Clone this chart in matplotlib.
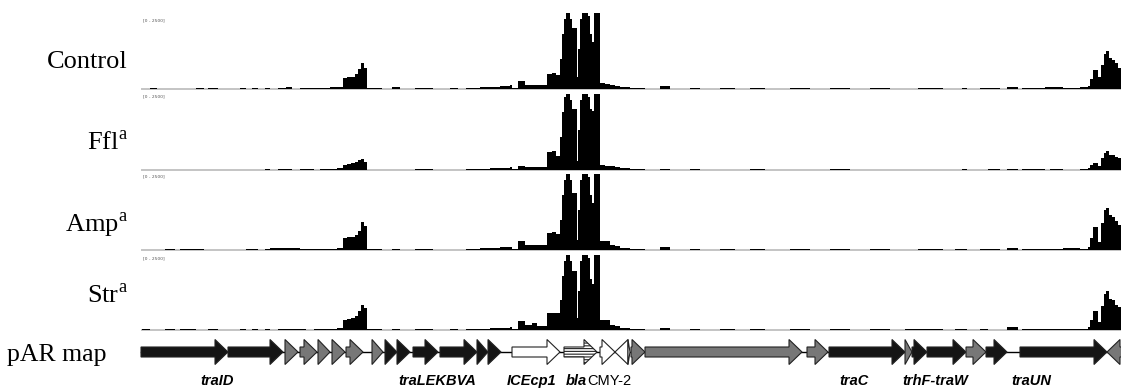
import matplotlib as mpl
mpl.use('Agg')
import matplotlib.pyplot as plt
from matplotlib.patches import Polygon

plt.rcParams['mathtext.fontset'] = 'custom'
plt.rcParams['mathtext.rm'] = 'Liberation Serif'
plt.rcParams['hatch.linewidth'] = 0.8

# coverage tracks, position in 100 bp bins, reads (scale 0 - 2500)
track_names = ['Control', 'Ffl$^{\\mathrm{a}}$', 'Amp$^{\\mathrm{a}}$', 'Str$^{\\mathrm{a}}$']
pos = [2, 10, 17, 25, 35, 40, 56, 64, 68, 78,
       100, 106, 112, 118, 125, 130, 138, 146, 152, 160,
       166, 174, 180, 190, 197, 203, 207, 211, 215, 218,
       221, 224, 227, 242, 252, 260, 275, 293, 310, 318,
       326, 340, 350, 360, 370, 372, 378, 385, 392, 397,
       407, 412, 416, 420, 422, 424, 426, 430, 432, 437,
       438, 440, 442, 448, 450, 452, 454, 460, 465, 470,
       475, 480, 490, 505, 520, 530, 550, 560, 580, 595,
       610, 625, 650, 670, 690, 710, 730, 750, 765, 778,
       803, 815, 822, 827, 840, 848, 860, 867, 878, 882,
       905, 910, 923, 940, 948, 950, 953, 958, 961, 964,
       966, 969, 972, 975, 978, 981]
cov_control = [0, 30, 0, 0, 0, 0, 30, 0, 30, 0,
               30, 0, 30, 0, 30, 0, 30, 60, 0, 30,
               30, 30, 40, 50, 65, 360, 380, 410, 500, 660,
               860, 700, 30, 0, 60, 0, 30, 0, 30, 0,
               30, 65, 80, 100, 130, 30, 250, 130, 130, 130,
               500, 530, 470, 1000, 1800, 2300, 2800, 2300, 2000, 400,
               1300, 2300, 2800, 2400, 1800, 1550, 2800, 200, 165, 130,
               100, 65, 30, 0, 100, 0, 30, 0, 30, 0,
               30, 0, 30, 0, 30, 0, 30, 0, 0, 30,
               0, 0, 30, 0, 30, 30, 0, 65, 0, 40,
               50, 50, 40, 65, 100, 330, 620, 400, 800, 1150,
               1250, 1020, 950, 850, 700, 700]
cov_ffl = [0, 0, 0, 0, 0, 0, 0, 0, 0, 0,
           0, 0, 0, 0, 30, 0, 30, 30, 0, 30,
           30, 0, 30, 40, 50, 165, 200, 230, 260, 330,
           360, 260, 0, 0, 0, 0, 30, 0, 0, 0,
           30, 40, 60, 80, 90, 30, 130, 100, 100, 100,
           600, 630, 460, 1100, 1900, 2400, 2800, 2300, 2000, 300,
           1300, 2300, 2800, 2400, 2000, 1950, 2800, 165, 130, 130,
           100, 65, 30, 0, 30, 0, 30, 0, 0, 0,
           30, 0, 0, 0, 30, 0, 0, 0, 0, 0,
           0, 0, 30, 0, 0, 30, 0, 40, 0, 30,
           0, 30, 0, 30, 65, 170, 230, 130, 400, 560,
           620, 500, 490, 430, 400, 400]
cov_amp = [0, 0, 0, 30, 0, 30, 30, 0, 0, 0,
           0, 30, 30, 0, 30, 60, 60, 60, 60, 30,
           30, 30, 30, 40, 65, 400, 430, 430, 500, 630,
           920, 790, 30, 0, 30, 0, 30, 0, 0, 0,
           30, 65, 80, 90, 100, 30, 300, 150, 150, 150,
           560, 590, 530, 1000, 1800, 2300, 2800, 2300, 1880, 330,
           1300, 2300, 2800, 2400, 1800, 1550, 2800, 300, 300, 160,
           130, 65, 30, 0, 100, 0, 30, 0, 30, 0,
           30, 0, 30, 0, 30, 0, 30, 0, 0, 30,
           0, 30, 30, 0, 30, 30, 0, 65, 0, 40,
           40, 40, 50, 40, 100, 400, 750, 260, 900, 1300,
           1380, 1150, 1090, 950, 820, 820]
cov_str = [30, 0, 0, 30, 0, 30, 0, 0, 30, 0,
           30, 0, 30, 0, 30, 0, 30, 30, 30, 30,
           0, 30, 30, 40, 60, 330, 360, 400, 460, 620,
           820, 720, 30, 0, 30, 0, 30, 0, 30, 0,
           30, 50, 65, 80, 100, 30, 300, 170, 230, 150,
           560, 560, 560, 1000, 1800, 2300, 2800, 2300, 1970, 400,
           1300, 2300, 2800, 2400, 1700, 1550, 2800, 330, 330, 165,
           130, 65, 30, 0, 65, 0, 30, 0, 30, 0,
           30, 0, 30, 0, 30, 0, 30, 0, 30, 30,
           0, 30, 30, 0, 30, 0, 0, 100, 0, 40,
           40, 40, 40, 50, 100, 330, 620, 260, 800, 1200,
           1290, 1050, 990, 850, 760, 760]
coverages = [cov_control, cov_ffl, cov_amp, cov_str]

# pAR gene map
gene_start = [1, 88, 145, 160, 178, 192, 206, 232, 245, 257,
              273, 300, 337, 348, 372, 424, 460, 475, 488, 491,
              505, 667, 689, 765, 772, 787, 826, 846, 880, 967]
gene_end = [88, 143, 158, 177, 190, 205, 223, 243, 257, 270,
            298, 337, 348, 361, 420, 457, 475, 488, 490, 505,
            662, 688, 765, 772, 787, 826, 846, 867, 967, 987]
gene_strand = [1] * 17 + [-1] + [1] * 11 + [-1]
gene_kind = ['black', 'black', 'gray', 'gray', 'gray', 'gray', 'gray', 'gray', 'black', 'black',
             'black', 'black', 'black', 'black', 'white', 'hatch', 'white', 'white', 'white', 'gray',
             'gray', 'gray', 'black', 'gray', 'black', 'black', 'gray', 'black', 'black', 'gray']
gene_labels = ['traID', 'traLEKBVA', 'ICEcp1', 'traC', 'trhF-traW', 'traUN']
gene_label_x = [77, 297, 392, 714, 795, 891]

W, H = 1121, 392
fig = plt.figure(figsize=(W / 100, H / 100), dpi=100)

x0, x1 = 140, 1121
left, width = x0 / W, (x1 - x0) / W
tops = [13, 94, 174, 255]
bottoms = [89, 170, 250, 330]
name_base = [68, 150, 232, 303]
range_y = [20, 96, 176, 258]

for i, cov in enumerate(coverages):
    ax = fig.add_axes([left, 1 - bottoms[i] / H, width, (bottoms[i] - tops[i]) / H])
    ax.plot([pos[0], pos[-1]], [0, 0], color='#c4c4c4', lw=1.4, clip_on=False, zorder=1)
    ax.fill_between(pos, 0, cov, step='post', color='black', lw=0, zorder=2)
    ax.set_xlim(0, x1 - x0)
    ax.set_ylim(0, 2500)
    ax.axis('off')
    fig.text(128 / W, 1 - name_base[i] / H, track_names[i], ha='right', va='baseline',
             fontsize=19, family='Liberation Serif')
    fig.text(143 / W, 1 - range_y[i] / H, '[0 - 2500]', ha='left', va='center',
             fontsize=3.2, color='#555555')

# gene map axis: y in pixels below y=333
gy0 = 333
gax = fig.add_axes([left, 0, width, (H - gy0) / H])
gax.set_xlim(0, x1 - x0)
gax.set_ylim(H - gy0, 0)
gax.axis('off')

yc = 352 - gy0
body, head_h, head_l = 5, 12.5, 13
gax.plot([gene_start[0], x1 - x0], [yc, yc], color='black', lw=1, zorder=1)
fills = {'black': '#151515', 'gray': '#777777', 'white': 'white', 'hatch': 'white'}
for s, e, d, k in zip(gene_start, gene_end, gene_strand, gene_kind):
    hl = min(head_l, e - s)
    if d > 0:
        pts = [(s, yc - body), (e - hl, yc - body), (e - hl, yc - head_h), (e, yc),
               (e - hl, yc + head_h), (e - hl, yc + body), (s, yc + body)]
    else:
        pts = [(e, yc - body), (s + hl, yc - body), (s + hl, yc - head_h), (s, yc),
               (s + hl, yc + head_h), (s + hl, yc + body), (e, yc + body)]
    poly = Polygon(pts, closed=True, facecolor=fills[k], edgecolor='#222222', lw=0.8,
                   hatch='------' if k == 'hatch' else None, zorder=2)
    gax.add_patch(poly)

ly = 381 - gy0
for lab, lx in zip(gene_labels, gene_label_x):
    gax.text(lx, ly, lab, ha='center', va='center', fontsize=10.5, fontweight='bold',
             fontstyle='italic', family='Liberation Sans')
gax.text(447, ly, 'bla', ha='right', va='center', fontsize=10.5, fontweight='bold',
         fontstyle='italic', family='Liberation Sans')
gax.text(447, ly, 'CMY-2', ha='left', va='center', fontsize=10.5, family='Liberation Sans')

fig.text(7 / W, 1 - 361 / H, 'pAR map', ha='left', va='baseline', fontsize=18.5,
         family='Liberation Serif')

fig.savefig('out.png', dpi=100)
